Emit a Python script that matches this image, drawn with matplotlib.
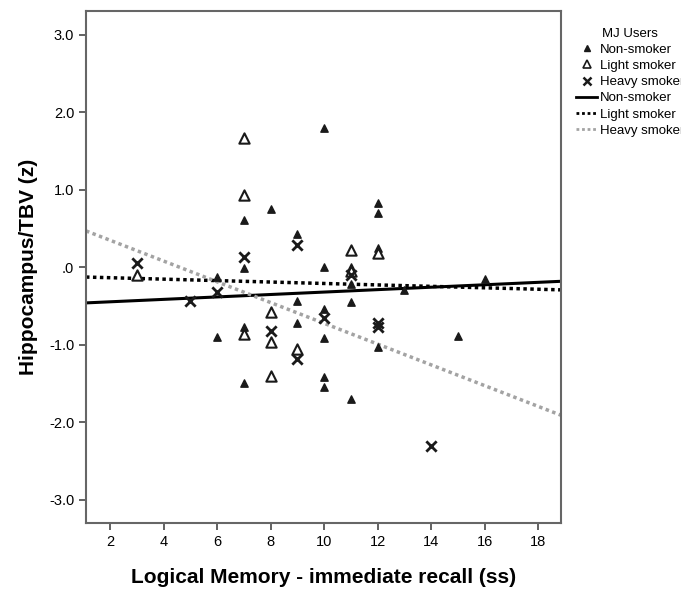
import numpy as np
import matplotlib.pyplot as plt
from matplotlib.lines import Line2D

plt.rcParams['font.family'] = ['Liberation Sans', 'DejaVu Sans']

# Non-smoker MJ users (filled triangles)
non_x = [6, 6, 7, 7, 7, 7, 8, 9, 9, 9, 10, 10, 10, 10, 10, 10,
         11, 11, 11, 11, 12, 12, 12, 12, 13, 15, 16]
non_y = [-0.12, -0.90, 0.61, -0.01, -0.77, -1.49, 0.75, 0.43, -0.43, -0.72,
         1.80, 0.00, -0.54, -0.91, -1.41, -1.55,
         0.01, -0.21, -0.45, -1.70, 0.83, 0.70, 0.25, -1.03, -0.29, -0.88, -0.15]

# Light smoker (open triangles)
light_x = [3, 7, 7, 7, 8, 8, 8, 9, 11, 11, 12]
light_y = [-0.10, 1.67, 0.94, -0.86, -0.58, -0.97, -1.40, -1.06, 0.23, -0.05, 0.18]

# Heavy smoker (crosses)
heavy_x = [3, 5, 6, 7, 8, 9, 9, 10, 11, 12, 12, 14]
heavy_y = [0.05, -0.43, -0.32, 0.13, -0.82, 0.29, -1.18, -0.66, -0.10, -0.72, -0.77, -2.31]

# fit lines (intercept, slope)
fit_non = (-0.476, 0.0157)
fit_light = (-0.115, -0.0093)
fit_heavy = (0.618, -0.134)

xlim = (1.1, 18.86)
ylim = (-3.3, 3.31)
xticks = [2, 4, 6, 8, 10, 12, 14, 16, 18]
yticks = [3.0, 2.0, 1.0, 0.0, -1.0, -2.0, -3.0]
ytick_labels = ['3.0', '2.0', '1.0', '.0', '-1.0', '-2.0', '-3.0']

fig = plt.figure(figsize=(6.81, 5.90), dpi=100)
ax = fig.add_axes([0.1263, 0.1136, 0.6975, 0.8678])

xs = np.array(xlim)
ax.plot(xs, fit_non[0] + fit_non[1] * xs, color='black', lw=2.2, solid_capstyle='butt')
ax.plot(xs, fit_light[0] + fit_light[1] * xs, color='black', lw=2.5, linestyle=(0, (1, 1)))
ax.plot(xs, fit_heavy[0] + fit_heavy[1] * xs, color='#a3a3a3', lw=2.5, linestyle=(0, (1, 1)))

ax.scatter(non_x, non_y, marker='^', s=28, color='#1a1a1a', zorder=3)
ax.scatter(light_x, light_y, marker='^', s=55, facecolors='white', edgecolors='#1a1a1a',
           linewidths=1.5, zorder=3)
ax.scatter(heavy_x, heavy_y, marker='x', s=55, color='#1a1a1a', linewidths=2, zorder=4)

ax.set_xlim(xlim)
ax.set_ylim(ylim)
ax.set_xticks(xticks)
ax.set_yticks(yticks)
ax.set_yticklabels(ytick_labels)
ax.tick_params(direction='out', length=5, width=1.3, color='#555555', labelsize=10.5)
for s in ax.spines.values():
    s.set_color('#666666')
    s.set_linewidth(1.5)

ax.set_xlabel('Logical Memory - immediate recall (ss)', fontsize=15, fontweight='bold', labelpad=14)
ax.set_ylabel('Hippocampus/TBV (z)', fontsize=15, fontweight='bold', labelpad=8)

handles = [
    Line2D([], [], marker='^', color='#1a1a1a', linestyle='none', markersize=5),
    Line2D([], [], marker='^', markerfacecolor='white', markeredgecolor='#1a1a1a',
           linestyle='none', markersize=6, markeredgewidth=1.2),
    Line2D([], [], marker='x', color='#1a1a1a', linestyle='none', markersize=6, markeredgewidth=1.8),
    Line2D([], [], color='black', lw=2),
    Line2D([], [], color='black', lw=2, linestyle=(0, (1, 1))),
    Line2D([], [], color='#a3a3a3', lw=2, linestyle=(0, (1, 1))),
]
labels = ['Non-smoker', 'Light smoker', 'Heavy smoker', 'Non-smoker', 'Light smoker', 'Heavy smoker']
leg = fig.legend(handles, labels, title='MJ Users', loc='upper left',
                 bbox_to_anchor=(0.838, 0.962), frameon=False, fontsize=9.5,
                 title_fontsize=9.5, handlelength=1.6, handletextpad=0.2,
                 labelspacing=0.3, borderaxespad=0)

fig.savefig('out.png', dpi=100)
